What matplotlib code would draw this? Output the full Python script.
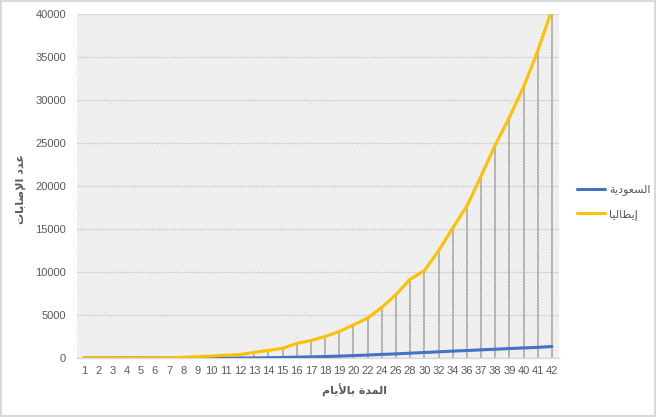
import matplotlib
matplotlib.use("Agg")
import matplotlib.pyplot as plt
from matplotlib.patches import Rectangle

# ---------------- data ----------------
day_labels = ["1", "2", "3", "4", "5", "6", "7", "8", "9", "10", "11", "12", "13", "14",
              "15", "16", "17", "18", "19", "20", "22", "24", "26", "28", "30", "32",
              "34", "36", "37", "38", "39", "40", "41", "42"]
italy = [3, 3, 3, 3, 3, 3, 20, 79, 150, 229, 322, 400, 650, 888, 1128, 1694, 2036,
         2502, 3089, 3858, 4636, 5883, 7375, 9172, 10149, 12462, 15113, 17660, 21157,
         24747, 27980, 31506, 35713, 40500]
saudi = [0, 0, 0, 0, 0, 0, 0, 0, 0, 0, 1, 1, 5, 30, 60, 100, 130, 170, 220, 280,
         340, 420, 480, 560, 640, 720, 800, 870, 950, 1020, 1100, 1170, 1240, 1330]
series_names = ["السعودية", "إيطاليا"]
x_title = "المدة بالأيام"
y_title = "عدد الإصابات"
y_ticks = [0, 5000, 10000, 15000, 20000, 25000, 30000, 35000, 40000]

# ------------- minimal Arabic shaping (matplotlib has no bidi/shaping) -------------
FORMS = {  # iso, fin, ini, med
    "\u0627": ("\uFE8D", "\uFE8E", None, None),
    "\u0623": ("\uFE83", "\uFE84", None, None),
    "\u0625": ("\uFE87", "\uFE88", None, None),
    "\u0628": ("\uFE8F", "\uFE90", "\uFE91", "\uFE92"),
    "\u062A": ("\uFE95", "\uFE96", "\uFE97", "\uFE98"),
    "\u0629": ("\uFE93", "\uFE94", None, None),
    "\u062F": ("\uFEA9", "\uFEAA", None, None),
    "\u0631": ("\uFEAD", "\uFEAE", None, None),
    "\u0635": ("\uFEB9", "\uFEBA", "\uFEBB", "\uFEBC"),
    "\u0639": ("\uFEC9", "\uFECA", "\uFECB", "\uFECC"),
    "\u0644": ("\uFEDD", "\uFEDE", "\uFEDF", "\uFEE0"),
    "\u0645": ("\uFEE1", "\uFEE2", "\uFEE3", "\uFEE4"),
    "\u0633": ("\uFEB1", "\uFEB2", "\uFEB3", "\uFEB4"),
    "\u0648": ("\uFEED", "\uFEEE", None, None),
    "\u064A": ("\uFEF1", "\uFEF2", "\uFEF3", "\uFEF4"),
    "\u0637": ("\uFEC1", "\uFEC2", "\uFEC3", "\uFEC4"),
}
LAMALEF = {"\u0627": ("\uFEFB", "\uFEFC"), "\u0623": ("\uFEF7", "\uFEF8"),
           "\u0625": ("\uFEF9", "\uFEFA")}


def shape(text):
    units = []
    i = 0
    while i < len(text):
        c = text[i]
        if c == "\u0644" and i + 1 < len(text) and text[i + 1] in LAMALEF:
            units.append(("LA", text[i + 1]))
            i += 2
        else:
            units.append(("C", c))
            i += 1

    def dual(u):
        return u[0] == "C" and u[1] in FORMS and FORMS[u[1]][2] is not None

    def arabic(u):
        return u[0] == "LA" or u[1] in FORMS

    out = []
    for k, u in enumerate(units):
        prev_j = k > 0 and dual(units[k - 1])
        next_j = k + 1 < len(units) and arabic(units[k + 1])
        if u[0] == "LA":
            out.append(LAMALEF[u[1]][1] if prev_j else LAMALEF[u[1]][0])
            continue
        c = u[1]
        if c not in FORMS:
            out.append(c)
            continue
        iso, fin, ini, med = FORMS[c]
        if ini is None:
            out.append(fin if prev_j else iso)
        else:
            if prev_j and next_j:
                out.append(med)
            elif prev_j:
                out.append(fin)
            elif next_j:
                out.append(ini)
            else:
                out.append(iso)
    return "".join(out)[::-1]


# ---------------- figure ----------------
plt.rcParams["font.family"] = ["Liberation Sans", "DejaVu Sans"]
TXT = "#595959"
fig = plt.figure(figsize=(6.56, 4.17), dpi=100)
fig.patch.set_facecolor("white")
fig.patch.set_edgecolor("#D9D9D9")
fig.patch.set_linewidth(1.5)

ax = fig.add_axes([77 / 656, 1 - 358 / 417, (559 - 77) / 656, (358 - 14) / 417])
x = list(range(len(day_labels)))

# hatched background (Excel "light downward diagonal" pattern)
plt.rcParams["hatch.linewidth"] = 0.45
bg = Rectangle((0, 0), 1, 1, transform=ax.transAxes, facecolor="white",
               edgecolor="#CFCFCF", hatch="\\" * 12, linewidth=0, zorder=0)
ax.add_patch(bg)

ax.set_xlim(-0.5, len(day_labels) - 0.5)
ax.set_ylim(0, 40000)
ax.set_yticks(y_ticks)
ax.yaxis.grid(True, color="#D9D9D9", linewidth=1.0, zorder=1)
ax.set_axisbelow(True)

tops = [max(a, b) for a, b in zip(italy, saudi)]
ax.vlines(x, 0, tops, colors="#A5A5A5", linewidth=1.1, zorder=2)

ax.plot(x, saudi, color="#4472C4", linewidth=2.2, zorder=3,
        label=shape(series_names[0]), solid_capstyle="round")
ax.plot(x, italy, color="#FFC000", linewidth=2.2, zorder=4,
        label=shape(series_names[1]), solid_capstyle="round")

ax.set_xticks(x)
ax.set_xticklabels(day_labels)
for s in ["top", "right", "left"]:
    ax.spines[s].set_visible(False)
ax.spines["bottom"].set_color("#D9D9D9")
ax.spines["bottom"].set_linewidth(1.0)
ax.tick_params(axis="both", length=0, labelsize=8, labelcolor=TXT)
ax.tick_params(axis="y", pad=8)
ax.tick_params(axis="x", pad=6)

fig.text(355 / 656, 1 - 390 / 417, shape(x_title), ha="center", va="center",
         fontsize=8, fontweight="bold", color=TXT, family="DejaVu Sans")
fig.text(21 / 656, 1 - 189 / 417, shape(y_title), ha="center", va="center",
         rotation=90, fontsize=8, fontweight="bold", color=TXT, family="DejaVu Sans")

leg = fig.legend(loc="center", bbox_to_anchor=(614 / 656, 1 - 202 / 417), frameon=False,
                 prop={"family": "DejaVu Sans", "size": 8}, handlelength=2.5,
                 labelspacing=1.2, handletextpad=0.4)
for t in leg.get_texts():
    t.set_color(TXT)

fig.savefig("out.png", dpi=100)
